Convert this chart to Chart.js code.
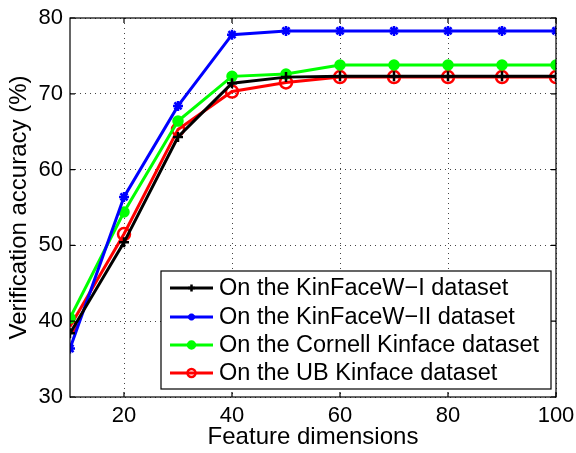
<!DOCTYPE html>
<html><head><meta charset="utf-8">
<script src="https://cdn.jsdelivr.net/npm/chart.js@4/dist/chart.umd.min.js"></script>
<style>html,body{margin:0;padding:0;background:#fff}#wrap{width:576px;height:453px}</style>
</head><body><div id="wrap"><canvas id="c" width="576" height="453"></canvas></div>
<script>
const dims = [10, 20, 30, 40, 50, 60, 70, 80, 90, 100];
const kinFaceW1 = [38.4, 50.4, 64.3, 71.4, 72.2, 72.3, 72.3, 72.3, 72.3, 72.3];
const kinFaceW2 = [36.4, 56.4, 68.4, 77.8, 78.3, 78.3, 78.3, 78.3, 78.3, 78.3];
const cornell   = [40.4, 54.4, 66.4, 72.3, 72.6, 73.8, 73.8, 73.8, 73.8, 73.8];
const ubKin     = [39.3, 51.5, 65.3, 70.3, 71.5, 72.2, 72.2, 72.2, 72.2, 72.2];
const xTicks = [20, 40, 60, 80, 100];
const yTicks = [30, 40, 50, 60, 70, 80];
const labels = ['On the KinFaceW\u2212I dataset','On the KinFaceW\u2212II dataset','On the Cornell Kinface dataset','On the UB Kinface dataset'];
const FONT = '"Liberation Sans", Arial, sans-serif';

function pts(arr){ return dims.map((d,i)=>({x:d,y:arr[i]})); }

const styles = [
  {color:'#000000', pointStyle:'cross', r:5, fill:'#000000'},
  {color:'#0000ff', pointStyle:'star', r:5, fill:'#0000ff'},
  {color:'#00ff00', pointStyle:'circle', r:4.5, fill:'#00ff00'},
  {color:'#ff0000', pointStyle:'circle', r:6, fill:'rgba(0,0,0,0)'}
];
const series = [kinFaceW1, kinFaceW2, cornell, ubKin];

const datasets = series.map((s,i)=>({
  label: labels[i],
  data: pts(s),
  borderColor: styles[i].color,
  backgroundColor: styles[i].fill,
  borderWidth: 3,
  pointStyle: styles[i].pointStyle,
  pointRadius: styles[i].r,
  pointBorderWidth: 2.5,
  pointBorderColor: styles[i].color,
  pointBackgroundColor: styles[i].fill,
  tension: 0
}));

function drawMarker(ctx, style, x, y, r, color, fill){
  ctx.save();
  ctx.strokeStyle = color; ctx.lineWidth = 2.5; ctx.fillStyle = fill;
  ctx.beginPath();
  if(style==='cross'){ ctx.moveTo(x-r,y);ctx.lineTo(x+r,y);ctx.moveTo(x,y-r);ctx.lineTo(x,y+r);ctx.stroke(); }
  else if(style==='star'){ ctx.moveTo(x-r,y);ctx.lineTo(x+r,y);ctx.moveTo(x,y-r);ctx.lineTo(x,y+r);
    const d=r*0.707; ctx.moveTo(x-d,y-d);ctx.lineTo(x+d,y+d);ctx.moveTo(x-d,y+d);ctx.lineTo(x+d,y-d);ctx.stroke(); }
  else { ctx.arc(x,y,r,0,Math.PI*2); ctx.fill(); ctx.stroke(); }
  ctx.restore();
}

const framePlugin = {
  id:'frame',
  afterDatasetsDraw(chart){
    const {ctx, chartArea:a, scales} = chart;
    ctx.save();
    ctx.strokeStyle = '#000'; ctx.lineWidth = 1.2;
    ctx.strokeRect(a.left, a.top, a.right-a.left, a.bottom-a.top);
    ctx.beginPath();
    const tl = 5;
    xTicks.forEach(v=>{ const px = scales.x.getPixelForValue(v);
      ctx.moveTo(px,a.bottom); ctx.lineTo(px,a.bottom-tl); ctx.moveTo(px,a.top); ctx.lineTo(px,a.top+tl); });
    yTicks.forEach(v=>{ const py = scales.y.getPixelForValue(v);
      ctx.moveTo(a.left,py); ctx.lineTo(a.left+tl,py); ctx.moveTo(a.right,py); ctx.lineTo(a.right-tl,py); });
    ctx.stroke();
    // legend box
    const L = 161, T = 271, R = 551, B = 389;
    ctx.fillStyle = '#fff'; ctx.fillRect(L,T,R-L,B-T);
    ctx.lineWidth = 1.2; ctx.strokeRect(L,T,R-L,B-T);
    const rows = [288, 317, 345, 373];
    ctx.font = '23.5px ' + FONT; ctx.textBaseline = 'middle'; ctx.textAlign='left';
    chart.data.datasets.forEach((ds,i)=>{
      const y = rows[i];
      ctx.strokeStyle = ds.borderColor; ctx.lineWidth = 3;
      ctx.beginPath(); ctx.moveTo(170,y); ctx.lineTo(213,y); ctx.stroke();
      drawMarker(ctx, styles[i].pointStyle, 191.5, y, i===3?4:3.5, ds.borderColor, styles[i].fill);
      ctx.fillStyle = '#000'; ctx.fillText(ds.label, 219, y+1);
    });
    ctx.restore();
  }
};

new Chart(document.getElementById('c'), {
  type:'line',
  data:{datasets},
  plugins:[framePlugin],
  options:{
    responsive:false, animation:false,
    layout:{padding:{top:18,right:20,left:0,bottom:0}},
    plugins:{legend:{display:false}, tooltip:{enabled:false}},
    scales:{
      x:{type:'linear', min:10, max:100,
        afterBuildTicks(s){ s.ticks = xTicks.map(v=>({value:v})); },
        afterFit(s){ s.height = 56; s.paddingRight = 0; s.paddingLeft = 0; },
        grid:{color:'#444', drawTicks:false, lineWidth:1},
        border:{display:false, dash:[1,4]},
        ticks:{color:'#000', font:{family:FONT,size:22}, padding:6, maxRotation:0, autoSkip:false},
        title:{display:true, text:'Feature dimensions', color:'#000', font:{family:FONT,size:24}, padding:{top:0,bottom:1}}
      },
      y:{min:30, max:80,
        afterBuildTicks(s){ s.ticks = yTicks.map(v=>({value:v})); },
        afterFit(s){ s.width = 70; s.paddingTop = 0; s.paddingBottom = 0; },
        grid:{color:'#444', drawTicks:false, lineWidth:1},
        border:{display:false, dash:[1,4]},
        ticks:{color:'#000', font:{family:FONT,size:22}, padding:7},
        title:{display:true, text:'Verification accuracy (%)', color:'#000', font:{family:FONT,size:24}, padding:{top:5,bottom:0}}
      }
    }
  }
});
</script></body></html>
